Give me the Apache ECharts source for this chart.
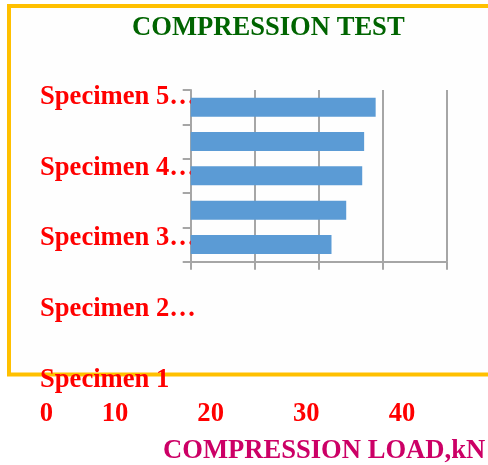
<!DOCTYPE html>
<html>
<head>
<meta charset="utf-8">
<script src="https://cdn.jsdelivr.net/npm/echarts@6/dist/echarts.min.js"></script>
<style>
  html, body { margin: 0; padding: 0; background: #fff; }
  #chart { width: 488px; height: 465px; }
</style>
</head>
<body>
<div id="chart"></div>
<script>
// data
const specimens = ['Specimen 1', 'Specimen 2', 'Specimen 3', 'Specimen 4', 'Specimen 5']
const loads = [22.0, 24.3, 26.8, 27.1, 28.9]
// labels as printed on the slide (truncated ones keep the ellipsis)
const specimenLabels = ['Specimen 1', 'Specimen 2…', 'Specimen 3…', 'Specimen 4…', 'Specimen 5…']
const xTicks = [0, 10, 20, 30, 40]

const font = "'Liberation Serif', 'Times New Roman', serif"
const fs = 26.6
const gray = '#A6A6A6'

let chart = echarts.init(document.getElementById('chart'))

let option = {
  animation: false,
  backgroundColor: '#fff',
  title: [
    {
      text: 'COMPRESSION TEST',
      left: 127, top: 10,
      textStyle: { fontFamily: font, fontSize: fs, fontWeight: 'bold', color: '#006400' }
    },
    {
      text: 'COMPRESSION LOAD,kN',
      left: 158, top: 433,
      textStyle: { fontFamily: font, fontSize: fs, fontWeight: 'bold', color: '#CC0066' }
    }
  ],
  graphic: [
    {
      type: 'rect', z: -10,
      shape: { x: 9, y: 6, width: 495, height: 368.5 },
      style: { fill: '#fefefe', stroke: '#FFC000', lineWidth: 4 }
    }
  ],
  grid: [
    // bars
    { left: 190.7, right: 41.3, top: 90, bottom: 203.3 },
    // specimen labels (spread down the slide)
    { left: 40, right: 200, top: 61.6, bottom: 49.4 },
    // load tick labels under the frame
    { left: 19.3, right: 86, top: 300, bottom: 51 }
  ],
  xAxis: [
    {
      gridIndex: 0, type: 'value', min: 0, max: 40, interval: 10,
      axisLine: { show: true, lineStyle: { color: gray, width: 2 } },
      axisTick: { show: true, length: 8, lineStyle: { color: gray, width: 2 } },
      splitLine: { show: true, lineStyle: { color: gray, width: 2 } },
      axisLabel: { show: false }
    },
    { gridIndex: 1, type: 'value', show: false },
    {
      gridIndex: 2, type: 'value', min: 0, max: 40, interval: 10,
      axisLine: { show: false }, axisTick: { show: false }, splitLine: { show: false },
      axisLabel: {
        margin: 0, verticalAlign: 'middle',
        fontFamily: font, fontSize: fs, fontWeight: 'bold', color: '#FF0000',
        formatter: (v) => v === xTicks[0] ? '{z|' + v + '}' : String(v),
        rich: {
          z: { padding: [0, 0, 0, 54], fontFamily: font, fontSize: fs, fontWeight: 'bold', color: '#FF0000' }
        }
      }
    }
  ],
  yAxis: [
    {
      gridIndex: 0, type: 'category', data: specimens,
      axisLine: { show: true, lineStyle: { color: gray, width: 2 } },
      axisTick: { show: true, length: 8, lineStyle: { color: gray, width: 2 } },
      axisLabel: { show: false }
    },
    {
      gridIndex: 1, type: 'category', data: specimenLabels,
      axisLine: { show: false }, axisTick: { show: false },
      axisLabel: {
        inside: true, margin: 0,
        fontFamily: font, fontSize: fs, fontWeight: 'bold', color: '#FF0000'
      }
    },
    { gridIndex: 2, type: 'value', show: false }
  ],
  series: [
    {
      type: 'bar',
      xAxisIndex: 0, yAxisIndex: 0,
      data: loads,
      barWidth: 19,
      itemStyle: { color: '#5B9BD5' }
    }
  ]
}

option && chart.setOption(option)
</script>
</body>
</html>
